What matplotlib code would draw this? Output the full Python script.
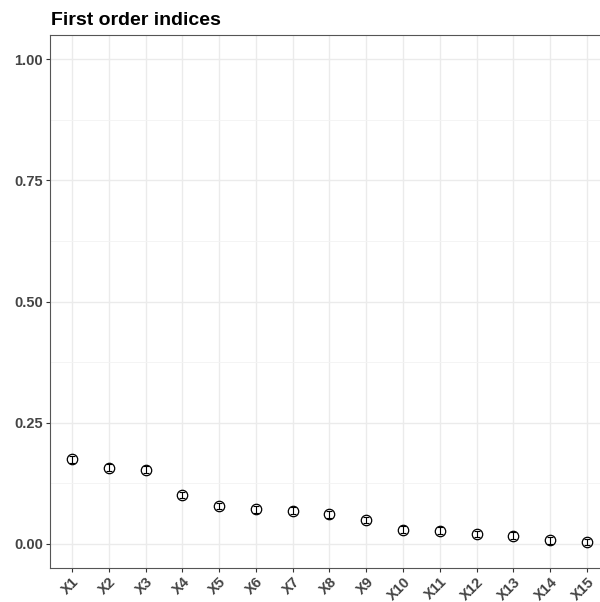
import matplotlib
matplotlib.use("Agg")
import matplotlib.pyplot as plt
import numpy as np

params = ["X1", "X2", "X3", "X4", "X5", "X6", "X7", "X8", "X9", "X10",
          "X11", "X12", "X13", "X14", "X15"]
original = [0.1745, 0.157, 0.153, 0.1006, 0.078, 0.071, 0.068, 0.061, 0.049,
            0.029, 0.027, 0.020, 0.017, 0.007, 0.0035]
low_ci = [0.167, 0.150, 0.146, 0.094, 0.071, 0.064, 0.061, 0.054, 0.042,
          0.022, 0.020, 0.013, 0.010, 0.000, -0.003]
high_ci = [0.182, 0.164, 0.160, 0.107, 0.085, 0.078, 0.075, 0.068, 0.056,
           0.036, 0.034, 0.027, 0.024, 0.014, 0.010]
yticks = [0.00, 0.25, 0.50, 0.75, 1.00]
ytick_labels = ["0.00", "0.25", "0.50", "0.75", "1.00"]
title = "First order indices"

plt.rcParams['font.family'] = ['Liberation Sans', 'DejaVu Sans']

fig = plt.figure(figsize=(6.0, 6.02), dpi=100)
W, H = 600, 602
left, right, top, bottom = 50, 609, 35, 568
ax = fig.add_axes([left / W, 1 - bottom / H, (right - left) / W, (bottom - top) / H])

x = np.arange(len(params))
orig = np.array(original)
yerr = np.vstack([orig - np.array(low_ci), np.array(high_ci) - orig])
ax.errorbar(x, orig, yerr=yerr, fmt='none', ecolor='black', elinewidth=0.8,
            capsize=2, capthick=0.8, zorder=3)
ax.plot(x, orig, linestyle='none', marker='o', markersize=7.5,
        markerfacecolor='none', markeredgecolor='black', markeredgewidth=0.9, zorder=4)

ax.set_xlim(-0.6, len(params) - 1 + 0.6)
ax.set_ylim(-0.05, 1.05)
ax.set_xticks(x)
ax.set_xticklabels(params, rotation=45, ha='right', va='top', rotation_mode='anchor',
                   fontsize=10.5, fontweight='bold', color='#444444')
ax.set_yticks(yticks)
ax.set_yticklabels(ytick_labels, fontsize=10.5, fontweight='bold', color='#444444')
ax.set_yticks([0.125, 0.375, 0.625, 0.875], minor=True)

ax.grid(True, which='major', color='#ebebeb', linewidth=1.0, zorder=0)
ax.grid(True, which='minor', axis='y', color='#f3f3f3', linewidth=0.6, zorder=0)
ax.set_axisbelow(True)
ax.tick_params(axis='both', which='major', length=3, width=0.8, color='#333333', pad=2)
ax.tick_params(axis='y', which='minor', length=0)
for s in ax.spines.values():
    s.set_color('#555555')
    s.set_linewidth(0.8)

fig.text(51 / W, 1 - 25 / H, title, fontsize=14, fontweight='bold', color='black',
         ha='left', va='baseline')

fig.savefig("out.png", dpi=100)
